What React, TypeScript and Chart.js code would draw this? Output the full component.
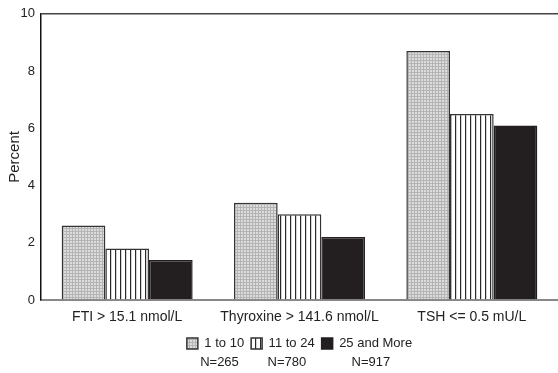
import React, { useEffect, useRef } from "react";
import { Chart, registerables } from "chart.js";

Chart.register(...registerables);

const categories = ["FTI > 15.1 nmol/L", "Thyroxine > 141.6 nmol/L", "TSH <= 0.5 mU/L"];
const seriesNames = ["1 to 10", "11 to 24", "25 and More"];
const seriesCounts = ["N=265", "N=780", "N=917"];
const values1to10 = [2.6, 3.4, 8.7];
const values11to24 = [1.8, 3.0, 6.5];
const values25plus = [1.4, 2.2, 6.1];
const yTicks = [0, 2, 4, 6, 8, 10];

function gridPattern(): CanvasPattern | string {
  const c = document.createElement("canvas");
  c.width = 3;
  c.height = 3;
  const g = c.getContext("2d");
  if (!g) return "#c8c8c8";
  g.fillStyle = "#dcdcdc";
  g.fillRect(0, 0, 3, 3);
  g.fillStyle = "#b4b4b4";
  g.fillRect(0, 0, 1, 3);
  g.fillRect(0, 0, 3, 1);
  const p = g.createPattern(c, "repeat");
  return p || "#c8c8c8";
}

function stripePattern(): CanvasPattern | string {
  const c = document.createElement("canvas");
  c.width = 5;
  c.height = 5;
  const g = c.getContext("2d");
  if (!g) return "#ffffff";
  g.fillStyle = "#ffffff";
  g.fillRect(0, 0, 5, 5);
  g.fillStyle = "#2a2a2a";
  g.fillRect(0, 0, 1.2, 5);
  const p = g.createPattern(c, "repeat");
  return p || "#ffffff";
}

const nLabelsPlugin = {
  id: "nLabels",
  afterDraw(chart: any) {
    const legend = chart.legend;
    if (!legend || !legend.legendHitBoxes) return;
    const ctx = chart.ctx;
    ctx.save();
    ctx.font = "13px 'Liberation Sans', Arial, sans-serif";
    ctx.fillStyle = "#222";
    ctx.textAlign = "center";
    ctx.textBaseline = "middle";
    legend.legendHitBoxes.forEach((hb: any, i: number) => {
      const cx = hb.left + hb.width / 2 + 4;
      const cy = hb.top + hb.height / 2 + 19;
      ctx.fillText(seriesCounts[i], cx, cy);
    });
    ctx.restore();
  },
};

export default function App() {
  const ref = useRef<HTMLCanvasElement | null>(null);

  useEffect(() => {
    if (!ref.current) return;
    const family = "'Liberation Sans', Arial, sans-serif";
    const font = { family, size: 13 };
    const chart = new Chart(ref.current, {
      type: "bar",
      data: {
        labels: categories,
        datasets: [
          {
            label: seriesNames[0],
            data: values1to10,
            backgroundColor: gridPattern() as any,
            borderColor: "#333",
            borderWidth: 1.5,
          },
          {
            label: seriesNames[1],
            data: values11to24,
            backgroundColor: stripePattern() as any,
            borderColor: "#333",
            borderWidth: 1.5,
          },
          {
            label: seriesNames[2],
            data: values25plus,
            backgroundColor: "#231f20",
            borderColor: "#231f20",
            borderWidth: 1.5,
          },
        ],
      },
      options: {
        animation: false,
        responsive: false,
        maintainAspectRatio: false,
        layout: { padding: { top: 13, right: 0, bottom: 13, left: 0 } },
        datasets: { bar: { categoryPercentage: 0.76, barPercentage: 1.0 } },
        scales: {
          x: {
            grid: { display: false, drawTicks: false },
            border: { display: true, color: "#888", width: 2 },
            ticks: { color: "#222", font: { family, size: 14 }, padding: 9, maxRotation: 0, autoSkip: false },
            afterFit(scale: any) {
              scale.height = 30;
            },
          },
          y: {
            min: 0,
            max: 10,
            afterBuildTicks(scale: any) {
              scale.ticks = yTicks.map((v) => ({ value: v }));
            },
            grid: {
              drawTicks: false,
              color: (ctx: any) => (ctx.tick && ctx.tick.value === 10 ? "#444" : "transparent"),
              lineWidth: 1.5,
            },
            border: { display: true, color: "#111", width: 1.5 },
            ticks: { color: "#222", font, padding: 6 },
            title: {
              display: true,
              text: "Percent",
              color: "#222",
              font: { family, size: 15 },
              padding: { top: 6, bottom: 0 },
            },
            afterFit(scale: any) {
              scale.width = 41;
            },
          },
        },
        plugins: {
          legend: {
            display: true,
            position: "bottom",
            fullSize: false,
            labels: {
              color: "#222",
              font,
              boxWidth: 11,
              boxHeight: 11,
              padding: 7,
            },
          },
          tooltip: { enabled: false },
        },
      },
      plugins: [nLabelsPlugin],
    });
    return () => chart.destroy();
  }, []);

  return (
    <div style={{ position: "absolute", left: 0, top: 0, width: 558, height: 373, background: "#fff" }}>
      <canvas ref={ref} width={558} height={373} style={{ display: "block" }} />
    </div>
  );
}
